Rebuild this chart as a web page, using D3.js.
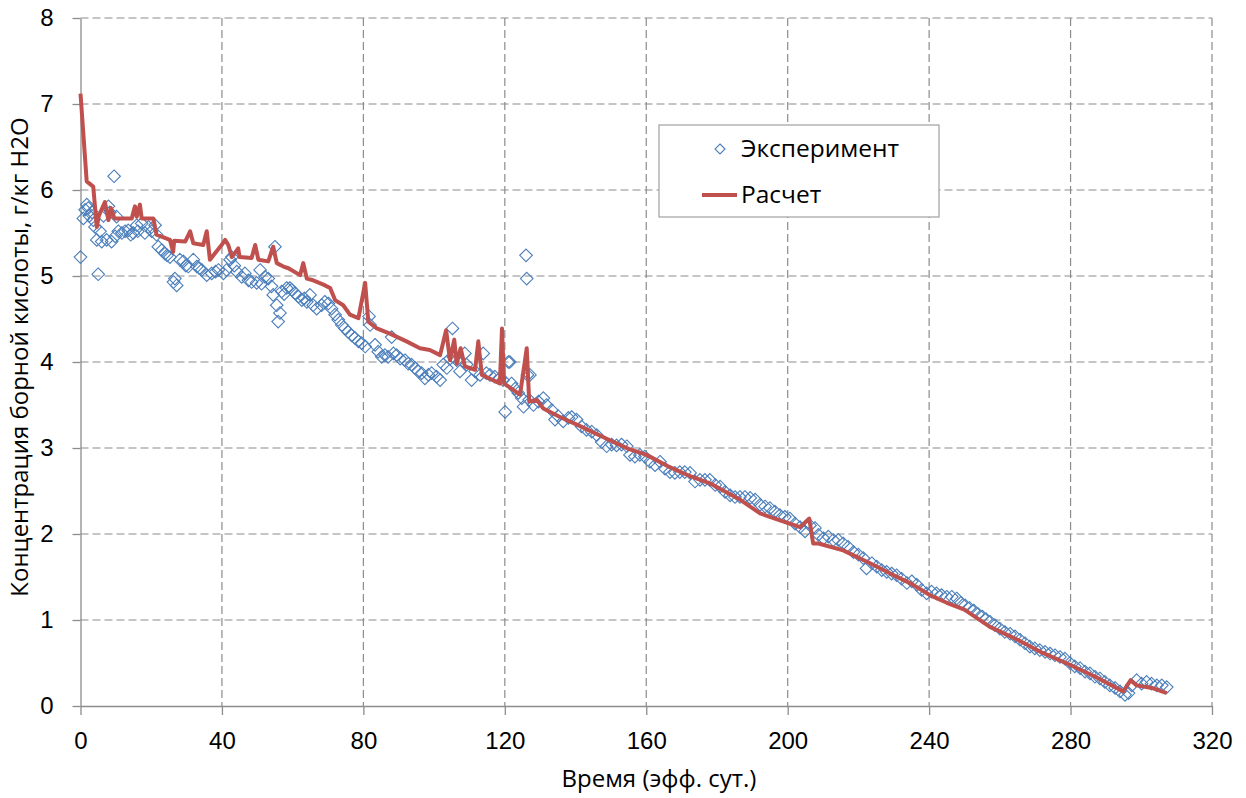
<!DOCTYPE html>
<html>
<head>
<meta charset="utf-8">
<script src="https://cdn.jsdelivr.net/npm/d3@7"></script>
<style>
  body { margin: 0; background: #fff; }
  svg { font-family: "Open Sans", sans-serif; }
  .grid line { stroke: #8c8c8c; stroke-width: 1.2; stroke-dasharray: 8,4; }
  .axis path, .axis line { stroke: #8c8c8c; stroke-width: 1.3; }
  .axis text { fill: #000; font-size: 24px; }
</style>
</head>
<body>
<div id="chart"></div>
<script>
// tick values
const xTicks = [0, 40, 80, 120, 160, 200, 240, 280, 320];
const yTicks = [0, 1, 2, 3, 4, 5, 6, 7, 8];

// experiment points [day, g/kg]
const experiment = [
  [0,5.22],[0.8,5.67],[1.3,5.77],[1.8,5.83],[2.2,5.79],[2.5,5.70],[3.3,5.74],[3.6,5.65],[4.1,5.57],[4.6,5.42],
  [5.0,5.02],[5.5,5.52],[6.0,5.40],[6.5,5.70],[7.4,5.42],[7.9,5.81],[8.3,5.74],[8.8,5.40],[9.5,6.16],[9.8,5.46],
  [10.2,5.69],[10.7,5.52],[11.7,5.50],[12.6,5.52],[13.5,5.53],[14.2,5.48],[14.9,5.50],[15.9,5.59],[16.2,5.52],[17.3,5.61],
  [18.2,5.50],[19.2,5.57],[20.1,5.52],[21.1,5.59],[21.5,5.48],[22.0,5.34],[23.0,5.30],[23.9,5.26],[24.5,5.24],[25.3,5.22],
  [26.3,4.93],[26.7,4.97],[27.2,4.89],[28.1,5.19],[29.1,5.17],[29.8,5.12],[30.5,5.11],[31.9,5.19],[32.9,5.11],[33.6,5.09],
  [34.3,5.07],[35.7,5.01],[37.1,5.03],[38.2,5.05],[39.0,5.07],[40.4,5.03],[41.3,5.07],[42.3,5.19],[42.8,5.22],[43.5,5.12],
  [44.2,5.05],[45.6,4.99],[46.5,5.03],[47.5,4.95],[48.4,4.93],[49.8,4.92],[50.8,5.07],[51.2,4.91],[52.2,4.99],[53.1,4.97],
  [54.0,4.88],[54.5,4.78],[55.0,5.34],[55.5,4.66],[55.9,4.47],[56.4,4.57],[56.9,4.82],[57.6,4.79],[58.3,4.86],[59.2,4.86],
  [59.7,4.84],[60.7,4.80],[61.6,4.76],[62.6,4.72],[63.3,4.74],[64.0,4.70],[64.9,4.78],[65.8,4.66],[66.8,4.62],[68.2,4.66],
  [69.1,4.70],[70.1,4.68],[71.0,4.62],[72.0,4.55],[72.9,4.49],[73.9,4.43],[74.8,4.39],[75.7,4.35],[76.7,4.31],[77.6,4.28],
  [78.6,4.24],[79.5,4.22],[80.5,4.18],[81.6,4.53],[81.9,4.43],[83.3,4.20],[84.2,4.12],[85.2,4.06],[86.1,4.08],[87.0,4.06],
  [88.0,4.29],[88.5,4.10],[89.4,4.08],[90.4,4.04],[91.8,4.02],[92.7,3.98],[93.6,3.97],[94.6,3.93],[95.5,3.89],[96.5,3.87],
  [97.4,3.81],[98.4,3.85],[99.3,3.87],[100.7,3.83],[101.7,3.79],[102.6,3.97],[103.6,3.93],[104.5,4.04],[105.2,4.39],[105.4,4.06],
  [106.4,4.02],[107.3,3.89],[108.7,4.10],[109.2,3.97],[110.6,3.79],[111.6,3.89],[113.0,3.85],[113.9,4.10],[114.8,3.87],[115.8,3.85],
  [117.2,3.83],[118.6,3.81],[119.5,3.79],[120.1,3.42],[121.0,4.00],[121.4,4.00],[121.9,3.75],[122.9,3.69],[123.8,3.64],[124.8,3.58],
  [125.3,3.48],[126.0,5.24],[126.2,4.97],[126.4,3.85],[126.9,3.56],[127.1,3.85],[128.1,3.50],[129.5,3.54],[130.9,3.58],[131.8,3.50],
  [133.3,3.44],[134.2,3.33],[135.1,3.37],[136.5,3.31],[138.0,3.35],[138.9,3.36],[140.3,3.33],[141.7,3.25],[143.1,3.21],[144.6,3.19],
  [146.0,3.15],[147.4,3.07],[148.8,3.02],[150.2,3.04],[151.6,3.03],[153.0,3.04],[154.5,3.02],[155.4,2.92],[156.8,2.90],[158.2,2.92],
  [159.6,2.90],[161.0,2.84],[162.5,2.80],[163.9,2.84],[165.3,2.76],[166.7,2.72],[168.1,2.71],[169.5,2.72],[170.9,2.72],[172.4,2.71],
  [173.8,2.61],[175.2,2.63],[176.6,2.63],[178.0,2.63],[179.5,2.57],[180.9,2.55],[182.3,2.49],[183.7,2.45],[185.1,2.43],[186.5,2.43],
  [187.9,2.43],[189.4,2.42],[190.8,2.40],[192.2,2.34],[193.6,2.32],[195.0,2.30],[196.4,2.26],[197.8,2.22],[199.2,2.20],[200.6,2.18],
  [202.1,2.12],[203.5,2.08],[204.9,2.03],[206.3,2.10],[207.7,2.07],[208.7,1.99],[210.1,1.95],[211.5,1.97],[212.9,1.93],[214.3,1.93],
  [215.7,1.89],[217.1,1.85],[218.6,1.79],[220.0,1.76],[221.4,1.72],[222.3,1.60],[223.8,1.66],[225.2,1.62],[226.6,1.58],[228.0,1.56],
  [229.4,1.54],[230.8,1.52],[232.2,1.48],[233.7,1.43],[235.1,1.45],[236.5,1.41],[237.9,1.35],[239.3,1.31],[240.7,1.33],[242.1,1.31],
  [243.5,1.29],[245.0,1.27],[246.4,1.27],[247.8,1.25],[249.0,1.20],[250.2,1.17],[251.4,1.14],[252.6,1.11],[253.8,1.07],[255.0,1.04],
  [256.1,1.01],[257.2,0.98],[258.6,0.94],[260.0,0.90],[261.4,0.86],[262.9,0.84],[264.3,0.81],[265.7,0.77],[267.1,0.73],[268.5,0.69],
  [269.9,0.67],[271.3,0.65],[272.8,0.63],[274.2,0.61],[275.6,0.59],[277.0,0.57],[278.4,0.55],[279.8,0.50],[281.2,0.46],[282.7,0.44],
  [284.1,0.40],[285.5,0.38],[286.9,0.34],[288.3,0.32],[289.7,0.28],[291.1,0.24],[292.6,0.21],[294.0,0.17],[295.4,0.13],[296.4,0.15],
  [297.3,0.24],[298.7,0.30],[300.1,0.26],[301.5,0.28],[302.9,0.26],[304.4,0.24],[305.8,0.24],[307.2,0.22]
];

// calculation line [day, g/kg]
const calc = [
  [0,7.12],[1.75,6.10],[3.6,6.04],[4.6,5.57],[5.2,5.70],[6.9,5.86],[7.9,5.65],[8.6,5.79],[9.6,5.67],[14.5,5.67],
  [15.4,5.81],[15.9,5.69],[16.8,5.83],[17.3,5.67],[20.6,5.67],[21.5,5.48],[25.3,5.42],[26.2,5.28],[26.5,5.41],[29.6,5.40],
  [31.0,5.52],[31.9,5.38],[34.7,5.36],[35.7,5.52],[36.6,5.19],[39.9,5.36],[40.9,5.42],[41.8,5.36],[42.8,5.22],[44.6,5.32],
  [45.0,5.22],[48.4,5.21],[49.4,5.36],[50.3,5.19],[53.1,5.17],[54.5,5.34],[55.5,5.15],[57.4,5.11],[58.8,5.09],[62.1,5.01],
  [63.0,5.15],[64.0,4.97],[65.8,4.95],[68.7,4.90],[70.6,4.86],[72.0,4.72],[74.3,4.66],[76.2,4.55],[78.6,4.51],[80.5,4.92],
  [81.4,4.47],[83.8,4.39],[87.5,4.33],[92.2,4.24],[96.0,4.16],[98.8,4.14],[101.7,4.08],[103.4,4.37],[104.5,4.02],[105.7,4.26],
  [106.4,3.98],[107.5,4.16],[108.7,3.95],[111.6,3.91],[112.5,4.24],[113.5,3.85],[118.6,3.75],[119.2,4.39],[119.8,3.75],[124.3,3.62],
  [126.2,4.16],[126.9,3.54],[129.0,3.56],[130.9,3.46],[135.6,3.36],[141.0,3.26],[149.7,3.09],[155.0,2.99],[160.1,2.92],[166.0,2.79],
  [172.0,2.68],[178.0,2.59],[182.0,2.50],[186.5,2.40],[192.2,2.24],[197.0,2.17],[203.5,2.08],[206.1,2.18],[207.2,1.89],[208.7,1.89],
  [215.7,1.81],[223.3,1.66],[230.0,1.52],[235.0,1.42],[240.2,1.29],[245.0,1.20],[250.0,1.12],[257.2,0.92],[265.0,0.77],[272.0,0.62],
  [279.8,0.48],[287.0,0.34],[294.9,0.17],[297.0,0.30],[298.7,0.24],[303.0,0.21],[307.2,0.15]
];

const labels = {
  x: "Время (эфф. сут.)",
  y: "Концентрация борной кислоты, г/кг H2O",
  exp: "Эксперимент",
  calc: "Расчет"
};

const W = 1246, H = 798;
const plot = { left: 80.5, right: 1212, top: 18, bottom: 706 };
const blue = "#4a7ebb", red = "#c0504d";

const svg = d3.select("#chart").append("svg")
  .attr("width", W).attr("height", H);

svg.append("rect").attr("width", W).attr("height", H).attr("fill", "#fff");

const x = d3.scaleLinear().domain([0, 320]).range([plot.left, plot.right]);
const y = d3.scaleLinear().domain([0, 8]).range([plot.bottom, plot.top]);

// dashed grid
const grid = svg.append("g").attr("class", "grid");
grid.selectAll(".gy").data(yTicks.filter(d => d > 0)).enter().append("line")
  .attr("x1", plot.left).attr("x2", plot.right)
  .attr("y1", d => y(d)).attr("y2", d => y(d));
grid.selectAll(".gx").data(xTicks.filter(d => d > 0)).enter().append("line")
  .attr("y1", plot.top).attr("y2", plot.bottom)
  .attr("x1", d => x(d)).attr("x2", d => x(d));

// axes
svg.append("g").attr("class", "axis")
  .attr("transform", "translate(0," + plot.bottom + ")")
  .call(d3.axisBottom(x).tickValues(xTicks).tickSize(9).tickSizeOuter(0).tickPadding(17))
  .call(g => g.selectAll("text").attr("dy", "0.71em"));

svg.append("g").attr("class", "axis")
  .attr("transform", "translate(" + plot.left + ",0)")
  .call(d3.axisLeft(y).tickValues(yTicks).tickSize(8).tickSizeOuter(0).tickPadding(19));

// experiment markers
const diamond = "M0,-6.3L6.3,0L0,6.3L-6.3,0Z";
svg.append("g").selectAll("path").data(experiment).enter().append("path")
  .attr("d", diamond)
  .attr("transform", d => "translate(" + x(d[0]) + "," + y(d[1]) + ")")
  .attr("fill", "none").attr("stroke", blue).attr("stroke-width", 1.1);

// calc line
const line = d3.line().x(d => x(d[0])).y(d => y(d[1]));
svg.append("path").datum(calc)
  .attr("d", line)
  .attr("fill", "none").attr("stroke", red).attr("stroke-width", 4)
  .attr("stroke-linejoin", "round");

// axis titles
svg.append("text")
  .attr("x", 659).attr("y", 787)
  .attr("text-anchor", "middle").style("font-size", "24px")
  .text(labels.x);

svg.append("text")
  .attr("transform", "translate(28,357) rotate(-90)")
  .attr("text-anchor", "middle").style("font-size", "24px")
  .text(labels.y);

// legend
const lg = svg.append("g");
lg.append("rect").attr("x", 659).attr("y", 125).attr("width", 280).attr("height", 92)
  .attr("fill", "#fff").attr("stroke", "#a0a0a0").attr("stroke-width", 1.2);
lg.append("path").attr("d", "M0,-5L5,0L0,5L-5,0Z")
  .attr("transform", "translate(720,149)")
  .attr("fill", "none").attr("stroke", blue).attr("stroke-width", 1.1);
lg.append("text").attr("x", 741).attr("y", 157).style("font-size", "24.5px").text(labels.exp);
lg.append("line").attr("x1", 702).attr("x2", 737).attr("y1", 195).attr("y2", 195)
  .attr("stroke", red).attr("stroke-width", 4);
lg.append("text").attr("x", 741).attr("y", 203).style("font-size", "24.5px").text(labels.calc);
</script>
</body>
</html>
